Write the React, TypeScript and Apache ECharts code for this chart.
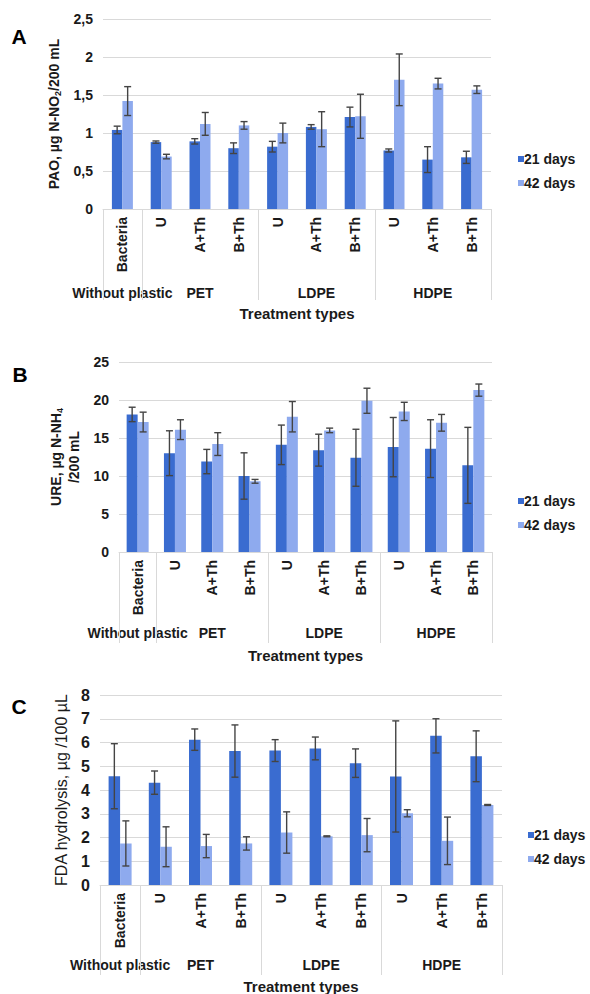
import React, { useEffect, useRef } from "react";
import * as echarts from "echarts";

const categories = ["Bacteria", "U", "A+Th", "B+Th", "U", "A+Th", "B+Th", "U", "A+Th", "B+Th"];
const groupNames = ["Without plastic", "PET", "LDPE", "HDPE"];
const groupSizes = [1, 3, 3, 3];
const seriesNames = ["21 days", "42 days"];
const xTitle = "Treatment types";

// Panel A – PAO
const paoDay21 = [1.04, 0.88, 0.89, 0.8, 0.82, 1.08, 1.21, 0.77, 0.65, 0.68];
const paoDay21Err = [0.05, 0.015, 0.035, 0.07, 0.07, 0.03, 0.13, 0.02, 0.17, 0.08];
const paoDay42 = [1.42, 0.69, 1.12, 1.1, 1.0, 1.05, 1.22, 1.7, 1.65, 1.57];
const paoDay42Err = [0.19, 0.03, 0.15, 0.05, 0.13, 0.23, 0.29, 0.34, 0.07, 0.05];

// Panel B – URE
const ureDay21 = [18.1, 13.0, 11.9, 10.0, 14.1, 13.4, 12.4, 13.8, 13.6, 11.4];
const ureDay21Err = [0.95, 2.95, 1.6, 3.05, 2.6, 2.1, 3.75, 3.9, 3.8, 5.0];
const ureDay42 = [17.1, 16.1, 14.2, 9.3, 17.8, 16.0, 19.9, 18.5, 17.0, 21.3];
const ureDay42Err = [1.3, 1.3, 1.5, 0.25, 2.0, 0.3, 1.65, 1.2, 1.1, 0.8];

// Panel C – FDA hydrolysis
const fdaDay21 = [4.58, 4.31, 6.12, 5.64, 5.66, 5.75, 5.13, 4.57, 6.28, 5.42];
const fdaDay21Err = [1.37, 0.49, 0.45, 1.1, 0.46, 0.48, 0.6, 2.34, 0.72, 1.07];
const fdaDay42 = [1.75, 1.61, 1.64, 1.75, 2.21, 2.05, 2.1, 3.02, 1.86, 3.37];
const fdaDay42Err = [0.95, 0.84, 0.49, 0.28, 0.87, 0.02, 0.7, 0.15, 1.0, 0.02];

const FONT = '"Liberation Sans", Arial, sans-serif';
const DARK = "#3a6cd0";
const LIGHT = "#8eaaee";
const GRIDC = "#d9d9d9";
const TXT = "#1a1a1a";

const panels = [
  {
    letter: "A",
    yName: "PAO, µg N-NO{sub|2}/200 mL",
    min: 0, max: 2.5, interval: 0.5, comma: true,
    d21: paoDay21, e21: paoDay21Err, d42: paoDay42, e42: paoDay42Err,
    grid: { left: 103, top: 19, width: 388, height: 190 },
    barWidth: 10.5, yLabelSize: 14, nameSize: 14, nameWeight: "bold", nameGap: 31,
    legend: { left: 513, top: 147 }, letterPos: [19, 36],
    groupY: 293, titleY: 313, sepLen: 91,
  },
  {
    letter: "B",
    yName: "URE, µg N-NH{sub|4}\n/200 mL",
    min: 0, max: 25, interval: 5, comma: false,
    d21: ureDay21, e21: ureDay21Err, d42: ureDay42, e42: ureDay42Err,
    grid: { left: 119, top: 362, width: 373, height: 190 },
    barWidth: 11, yLabelSize: 14, nameSize: 14, nameWeight: "bold", nameGap: 32,
    legend: { left: 513, top: 489 }, letterPos: [20, 374],
    groupY: 633, titleY: 655, sepLen: 91,
  },
  {
    letter: "C",
    yName: "FDA hydrolysis, µg /100 µL",
    min: 0, max: 8, interval: 1, comma: false,
    d21: fdaDay21, e21: fdaDay21Err, d42: fdaDay42, e42: fdaDay42Err,
    grid: { left: 100, top: 695, width: 402, height: 190 },
    barWidth: 11.5, yLabelSize: 16, nameSize: 16, nameWeight: "normal", nameGap: 22,
    legend: { left: 523, top: 823 }, letterPos: [19, 706],
    groupY: 965, titleY: 986, sepLen: 90,
  },
];

function errorSeries(k: number, values: number[], errs: number[], dx: number) {
  return {
    type: "custom",
    xAxisIndex: k,
    yAxisIndex: k,
    z: 5,
    silent: true,
    encode: { x: 0, y: 1 },
    data: values.map((v, i) => [i, v, errs[i]]),
    renderItem: (params: any, api: any) => {
      const idx = api.value(0);
      const v = api.value(1);
      const e = api.value(2);
      const top = api.coord([idx, v + e]);
      const bot = api.coord([idx, v - e]);
      const x = top[0] + dx;
      const cap = 3.5;
      const st = { stroke: "#444", lineWidth: 1.4 };
      return {
        type: "group",
        children: [
          { type: "line", shape: { x1: x, y1: top[1], x2: x, y2: bot[1] }, style: st },
          { type: "line", shape: { x1: x - cap, y1: top[1], x2: x + cap, y2: top[1] }, style: st },
          { type: "line", shape: { x1: x - cap, y1: bot[1], x2: x + cap, y2: bot[1] }, style: st },
        ],
      };
    },
  };
}

function buildOption() {
  const grid: any[] = [];
  const xAxis: any[] = [];
  const yAxis: any[] = [];
  const series: any[] = [];
  const legend: any[] = [];
  panels.forEach((p, k) => {
    grid.push({ ...p.grid, containLabel: false });
    xAxis.push({
      type: "category",
      gridIndex: k,
      data: categories,
      axisLine: { lineStyle: { color: GRIDC } },
      axisTick: { show: false },
      axisLabel: {
        interval: 0,
        rotate: 90,
        margin: 8,
        color: TXT,
        fontFamily: FONT,
        fontWeight: "bold",
        fontSize: 14,
      },
    });
    yAxis.push({
      type: "value",
      gridIndex: k,
      min: p.min,
      max: p.max,
      interval: p.interval,
      axisLine: { show: false },
      axisTick: { show: false },
      splitLine: { lineStyle: { color: GRIDC } },
      axisLabel: {
        color: TXT,
        fontFamily: FONT,
        fontWeight: "bold",
        fontSize: p.yLabelSize,
        margin: 10,
        formatter: (v: number) => (p.comma ? String(v).replace(".", ",") : String(v)),
      },
      name: p.yName,
      nameLocation: "middle",
      nameGap: p.nameGap,
      nameRotate: 90,
      nameTextStyle: {
        color: TXT,
        fontFamily: FONT,
        fontWeight: p.nameWeight,
        fontSize: p.nameSize,
        lineHeight: 18,
        rich: {
          sub: {
            fontFamily: FONT,
            fontWeight: p.nameWeight,
            fontSize: 9,
            lineHeight: 10,
            verticalAlign: "bottom",
            color: TXT,
          },
        },
      },
    });
    const dx = p.barWidth / 2;
    series.push({
      type: "bar",
      name: seriesNames[0],
      xAxisIndex: k,
      yAxisIndex: k,
      data: p.d21,
      barWidth: p.barWidth,
      barGap: "0%",
      itemStyle: { color: DARK },
    });
    series.push({
      type: "bar",
      name: seriesNames[1],
      xAxisIndex: k,
      yAxisIndex: k,
      data: p.d42,
      barWidth: p.barWidth,
      barGap: "0%",
      itemStyle: { color: LIGHT },
    });
    series.push(errorSeries(k, p.d21, p.e21, -dx));
    series.push(errorSeries(k, p.d42, p.e42, dx));
    legend.push({
      data: seriesNames,
      orient: "vertical",
      left: p.legend.left,
      top: p.legend.top,
      icon: "rect",
      itemWidth: 6,
      itemHeight: 6,
      itemGap: 10,
      selectedMode: false,
      textStyle: { color: TXT, fontFamily: FONT, fontWeight: "bold", fontSize: 14, padding: [0, 0, 0, -5] },
    });
  });
  return { animation: false, backgroundColor: "#fff", grid, xAxis, yAxis, series, legend };
}

export default function App() {
  const ref = useRef<HTMLDivElement>(null);
  useEffect(() => {
    if (!ref.current) return;
    const chart = echarts.init(ref.current, null, { renderer: "svg" });
    chart.setOption(buildOption());
    const graphics: any[] = [];
    panels.forEach((p, k) => {
      const c0 = chart.convertToPixel({ xAxisIndex: k } as any, 0 as any) as unknown as number;
      const c1 = chart.convertToPixel({ xAxisIndex: k } as any, 1 as any) as unknown as number;
      const w = c1 - c0;
      const left = c0 - w / 2;
      const yBase = chart.convertToPixel({ yAxisIndex: k } as any, 0 as any) as unknown as number;
      let start = 0;
      const bounds = [0];
      groupSizes.forEach((s, g) => {
        const cx = left + (start + s / 2) * w;
        graphics.push({
          type: "text",
          x: cx,
          y: p.groupY,
          style: {
            text: groupNames[g],
            align: "center",
            verticalAlign: "middle",
            fill: TXT,
            font: `bold 14px ${FONT}`,
          },
        });
        start += s;
        bounds.push(start);
      });
      bounds.forEach((b) => {
        const x = Math.round(left + b * w) + 0.5;
        graphics.push({
          type: "line",
          shape: { x1: x, y1: yBase, x2: x, y2: yBase + p.sepLen },
          style: { stroke: GRIDC, lineWidth: 1 },
        });
      });
      graphics.push({
        type: "text",
        x: left + (categories.length * w) / 2,
        y: p.titleY,
        style: {
          text: xTitle,
          align: "center",
          verticalAlign: "middle",
          fill: TXT,
          font: `bold 15px ${FONT}`,
        },
      });
      graphics.push({
        type: "text",
        x: p.letterPos[0],
        y: p.letterPos[1],
        style: {
          text: p.letter,
          align: "center",
          verticalAlign: "middle",
          fill: "#000",
          font: `bold 21px ${FONT}`,
        },
      });
    });
    chart.setOption({ graphic: graphics });
    return () => chart.dispose();
  }, []);
  return (
    <div
      ref={ref}
      style={{ position: "fixed", left: 0, top: 0, width: 590, height: 994, background: "#fff" }}
    />
  );
}
